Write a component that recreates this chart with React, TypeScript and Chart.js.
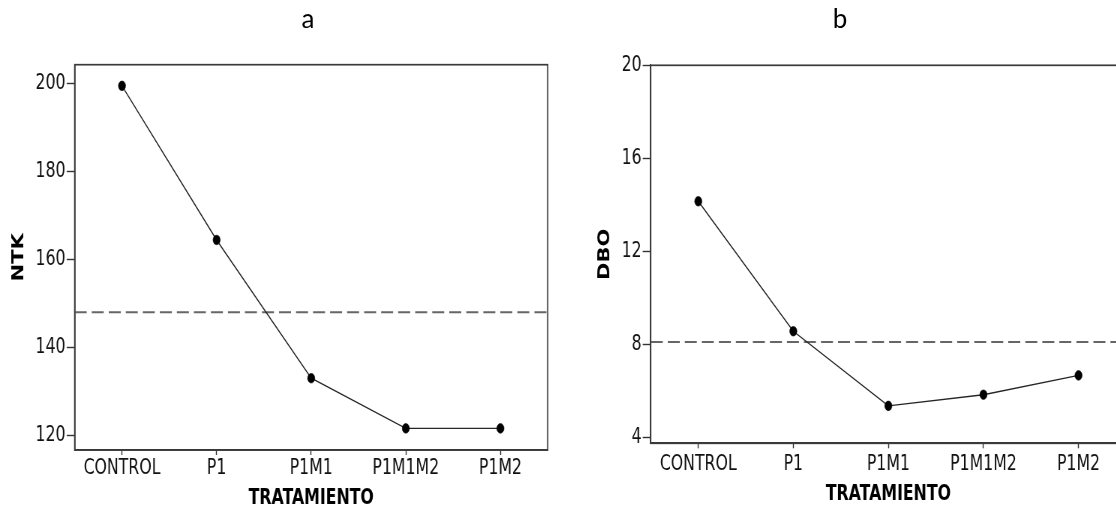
import React, { useEffect, useRef } from "react";
import { Chart, registerables } from "chart.js";

Chart.register(...registerables);

// ---- data ----
const categories = ["CONTROL", "P1", "P1M1", "P1M1M2", "P1M2"];
const ntkValues = [199.4, 164.4, 133.0, 121.6, 121.6];
const dboValues = [14.15, 8.56, 5.35, 5.83, 6.66];
const ntkMean = 148.0;
const dboMean = 8.1;
const ntkTicks = [120, 140, 160, 180, 200];
const dboTicks = [4, 8, 12, 16, 20];
const ntkRange = [116.7, 204.2];
const dboRange = [3.74, 20];
const panelTitles = ["a", "b"];
const xTitle = "TRATAMIENTO";
const yTitles = ["NTK", "DBO"];

const SX = 0.75; // the reference is horizontally condensed
const FONT = "'DejaVu Sans', 'Noto Sans', sans-serif";

type PanelProps = {
  values: number[];
  mean: number;
  ticks: number[];
  range: number[];
  yTitle: string;
  left: number;
  width: number;
  yAxisWidth: number;
  xAxisHeight: number;
  padTop: number;
  padRight: number;
  yTitlePad: number;
  xTitlePad: number;
  xLabelPad: number;
};

function Panel(p: PanelProps) {
  const ref = useRef<HTMLCanvasElement>(null);
  useEffect(() => {
    const canvas = ref.current!;
    const frame = {
      id: "frame",
      afterDatasetsDraw(chart: any) {
        const { ctx, chartArea: a } = chart;
        ctx.save();
        ctx.strokeStyle = "#3a3a3a";
        ctx.lineWidth = 1.7;
        ctx.strokeRect(a.left, a.top, a.right - a.left, a.bottom - a.top);
        ctx.restore();
      },
    };
    const meanLine = {
      id: "meanLine",
      beforeDatasetsDraw(chart: any) {
        const { ctx, chartArea: a } = chart;
        const y = chart.scales.y.getPixelForValue(p.mean);
        ctx.save();
        ctx.strokeStyle = "#666666";
        ctx.lineWidth = 2;
        ctx.setLineDash([16, 6.7]);
        ctx.beginPath();
        ctx.moveTo(a.left, y);
        ctx.lineTo(a.right, y);
        ctx.stroke();
        ctx.restore();
      },
    };
    const chart = new Chart(canvas, {
      type: "line",
      data: {
        labels: categories,
        datasets: [
          {
            data: p.values,
            borderColor: "#262626",
            borderWidth: 1.4,
            pointRadius: 4.8,
            pointBackgroundColor: "#000",
            pointBorderColor: "#000",
            pointBorderWidth: 0.6,
            tension: 0,
            fill: false,
          },
        ],
      },
      options: {
        responsive: false,
        maintainAspectRatio: false,
        animation: false,
        layout: { padding: { left: 0, top: p.padTop, right: p.padRight, bottom: 0 } },
        plugins: {
          legend: { display: false },
          tooltip: { enabled: false },
          title: { display: false },
        },
        scales: {
          x: {
            type: "category",
            offset: true,
            grid: {
              display: true,
              drawOnChartArea: false,
              drawTicks: true,
              tickLength: 5,
              color: "#333",
              tickWidth: 1.4,
            },
            border: { display: true, color: "#3a3a3a", width: 1.7 },
            ticks: {
              color: "#111",
              font: { family: FONT, size: 21 },
              padding: p.xLabelPad,
              maxRotation: 0,
              autoSkip: false,
            },
            title: {
              display: true,
              text: xTitle,
              color: "#000",
              font: { family: FONT, size: 21, weight: "bold", lineHeight: 1 },
              padding: { top: 0, bottom: p.xTitlePad },
            },
            afterFit: (s: any) => {
              s.height = p.xAxisHeight;
            },
          },
          y: {
            type: "linear",
            min: p.range[0],
            max: p.range[1],
            afterBuildTicks: (s: any) => {
              s.ticks = p.ticks.map((v) => ({ value: v }));
            },
            grid: {
              display: true,
              drawOnChartArea: false,
              drawTicks: true,
              tickLength: 10.7,
              color: "#333",
              tickWidth: 1.4,
            },
            border: { display: true, color: "#3a3a3a", width: 1.7 },
            ticks: {
              color: "#111",
              font: { family: FONT, size: 21 },
              padding: 1.5,
            },
            title: {
              display: true,
              text: p.yTitle,
              color: "#000",
              font: { family: FONT, size: 21, weight: "bold", lineHeight: 1 },
              padding: { top: p.yTitlePad, bottom: 0 },
            },
            afterFit: (s: any) => {
              s.width = p.yAxisWidth;
            },
          },
        },
      },
      plugins: [frame, meanLine],
    } as any);
    return () => chart.destroy();
  }, []);
  return (
    <canvas
      ref={ref}
      width={p.width}
      height={506}
      style={{
        position: "absolute",
        left: p.left,
        top: 0,
        transform: `scaleX(${SX})`,
        transformOrigin: "0 0",
        display: "block",
      }}
    />
  );
}

const titleStyle: React.CSSProperties = {
  position: "absolute",
  top: 5,
  width: 100,
  textAlign: "center",
  fontFamily: "Lato, 'Open Sans', sans-serif",
  fontSize: 26,
  lineHeight: "26px",
  color: "#000",
};

export default function App() {
  return (
    <div
      style={{
        position: "fixed",
        left: 0,
        top: 0,
        width: 1116,
        height: 506,
        overflow: "hidden",
        background: "#fff",
      }}
    >
      <Panel
        values={ntkValues}
        mean={ntkMean}
        ticks={ntkTicks}
        range={ntkRange}
        yTitle={yTitles[0]}
        left={0}
        width={744}
        yAxisWidth={99.6}
        xAxisHeight={56}
        padTop={64.7}
        padRight={13.7}
        yTitlePad={15}
        xTitlePad={-3.5}
        xLabelPad={1}
      />
      <Panel
        values={dboValues}
        mean={dboMean}
        ticks={dboTicks}
        range={dboRange}
        yTitle={yTitles[1]}
        left={580}
        width={740}
        yAxisWidth={94.3}
        xAxisHeight={62.7}
        padTop={65.3}
        padRight={12}
        yTitlePad={23}
        xTitlePad={0.5}
        xLabelPad={3.5}
      />
      <div style={{ ...titleStyle, left: 258 }}>{panelTitles[0]}</div>
      <div style={{ ...titleStyle, left: 790 }}>{panelTitles[1]}</div>
    </div>
  );
}
